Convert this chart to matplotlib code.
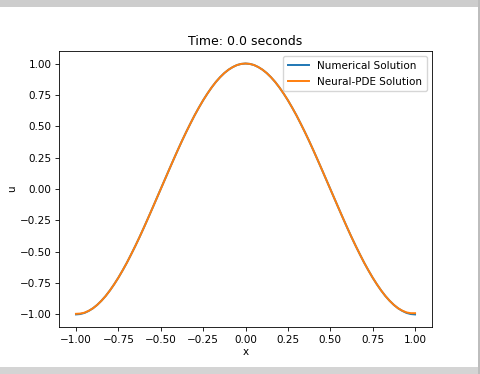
import matplotlib
matplotlib.use('Agg')
import matplotlib.pyplot as plt
from matplotlib.patches import Rectangle

# valeurs (t = 0.0 s)
x = [-1.000, -0.975, -0.950, -0.925, -0.900, -0.875, -0.850, -0.825, -0.800, -0.775,
     -0.750, -0.725, -0.700, -0.675, -0.650, -0.625, -0.600, -0.575, -0.550, -0.525,
     -0.500, -0.475, -0.450, -0.425, -0.400, -0.375, -0.350, -0.325, -0.300, -0.275,
     -0.250, -0.225, -0.200, -0.175, -0.150, -0.125, -0.100, -0.075, -0.050, -0.025,
     0.000, 0.025, 0.050, 0.075, 0.100, 0.125, 0.150, 0.175, 0.200, 0.225,
     0.250, 0.275, 0.300, 0.325, 0.350, 0.375, 0.400, 0.425, 0.450, 0.475,
     0.500, 0.525, 0.550, 0.575, 0.600, 0.625, 0.650, 0.675, 0.700, 0.725,
     0.750, 0.775, 0.800, 0.825, 0.850, 0.875, 0.900, 0.925, 0.950, 0.975, 1.000]
u_num = [-1.000, -0.997, -0.988, -0.972, -0.951, -0.924, -0.891, -0.853, -0.809, -0.760,
         -0.707, -0.649, -0.588, -0.522, -0.454, -0.383, -0.309, -0.233, -0.156, -0.078,
         0.000, 0.078, 0.156, 0.233, 0.309, 0.383, 0.454, 0.522, 0.588, 0.649,
         0.707, 0.760, 0.809, 0.853, 0.891, 0.924, 0.951, 0.972, 0.988, 0.997,
         1.000, 0.997, 0.988, 0.972, 0.951, 0.924, 0.891, 0.853, 0.809, 0.760,
         0.707, 0.649, 0.588, 0.522, 0.454, 0.383, 0.309, 0.233, 0.156, 0.078,
         0.000, -0.078, -0.156, -0.233, -0.309, -0.383, -0.454, -0.522, -0.588, -0.649,
         -0.707, -0.760, -0.809, -0.853, -0.891, -0.924, -0.951, -0.972, -0.988, -0.997, -1.000]
u_nn = [-0.995, -0.993, -0.986, -0.971, -0.951, -0.924, -0.891, -0.853, -0.809, -0.760,
        -0.707, -0.649, -0.588, -0.522, -0.454, -0.383, -0.309, -0.233, -0.156, -0.078,
        0.000, 0.078, 0.156, 0.233, 0.309, 0.383, 0.454, 0.522, 0.588, 0.649,
        0.707, 0.760, 0.809, 0.853, 0.891, 0.924, 0.951, 0.972, 0.988, 0.997,
        1.000, 0.997, 0.988, 0.972, 0.951, 0.924, 0.891, 0.853, 0.809, 0.760,
        0.707, 0.649, 0.588, 0.522, 0.454, 0.383, 0.309, 0.233, 0.156, 0.078,
        0.000, -0.078, -0.156, -0.233, -0.309, -0.383, -0.454, -0.522, -0.588, -0.649,
        -0.707, -0.760, -0.809, -0.853, -0.891, -0.924, -0.951, -0.970, -0.984, -0.990, -0.990]
xticks = [-1.00, -0.75, -0.50, -0.25, 0.00, 0.25, 0.50, 0.75, 1.00]
yticks = [-1.00, -0.75, -0.50, -0.25, 0.00, 0.25, 0.50, 0.75, 1.00]

fig = plt.figure(figsize=(4.8, 3.74), dpi=100)
ax = fig.add_axes([0.123, 0.1257, 0.777, 0.738])

ax.plot(x, u_num, color='#1f77b4', linewidth=1.4, label='Numerical Solution')
ax.plot(x, u_nn, color='#ff7f0e', linewidth=1.4, label='Neural-PDE Solution')

ax.set_xticks(xticks)
ax.set_yticks(yticks)
ax.set_xticklabels([f"{v:.2f}".replace('-', '\u2212') for v in xticks], fontsize=7.5)
ax.set_yticklabels([f"{v:.2f}".replace('-', '\u2212') for v in yticks], fontsize=7.5)
ax.tick_params(length=3, width=0.6, pad=2.5)
for s in ax.spines.values():
    s.set_linewidth(0.6)

ax.set_xlabel('x', fontsize=7.5, labelpad=2)
ax.set_ylabel('u', fontsize=7.5, labelpad=2)
ax.set_title('Time: 0.0 seconds', fontsize=9.0, pad=4.5)
ax.legend(loc='upper right', fontsize=7.5, handlelength=2.0, borderpad=0.45,
          labelspacing=0.55, framealpha=0.8)

# bandes grises de la capture d'écran
fig.patches.append(Rectangle((0, 1 - 7 / 374), 1, 7 / 374, transform=fig.transFigure,
                             facecolor='#cdcdcd', edgecolor='none', zorder=-1))
fig.patches.append(Rectangle((0, 0), 1, 7 / 374, transform=fig.transFigure,
                             facecolor='#d4d4d4', edgecolor='none', zorder=-1))
fig.patches.append(Rectangle((1 - 2 / 480, 0), 2 / 480, 1, transform=fig.transFigure,
                             facecolor='#bdbdbd', edgecolor='none', zorder=-1))

fig.savefig('out.png', dpi=100, facecolor='white')
plt.close(fig)
